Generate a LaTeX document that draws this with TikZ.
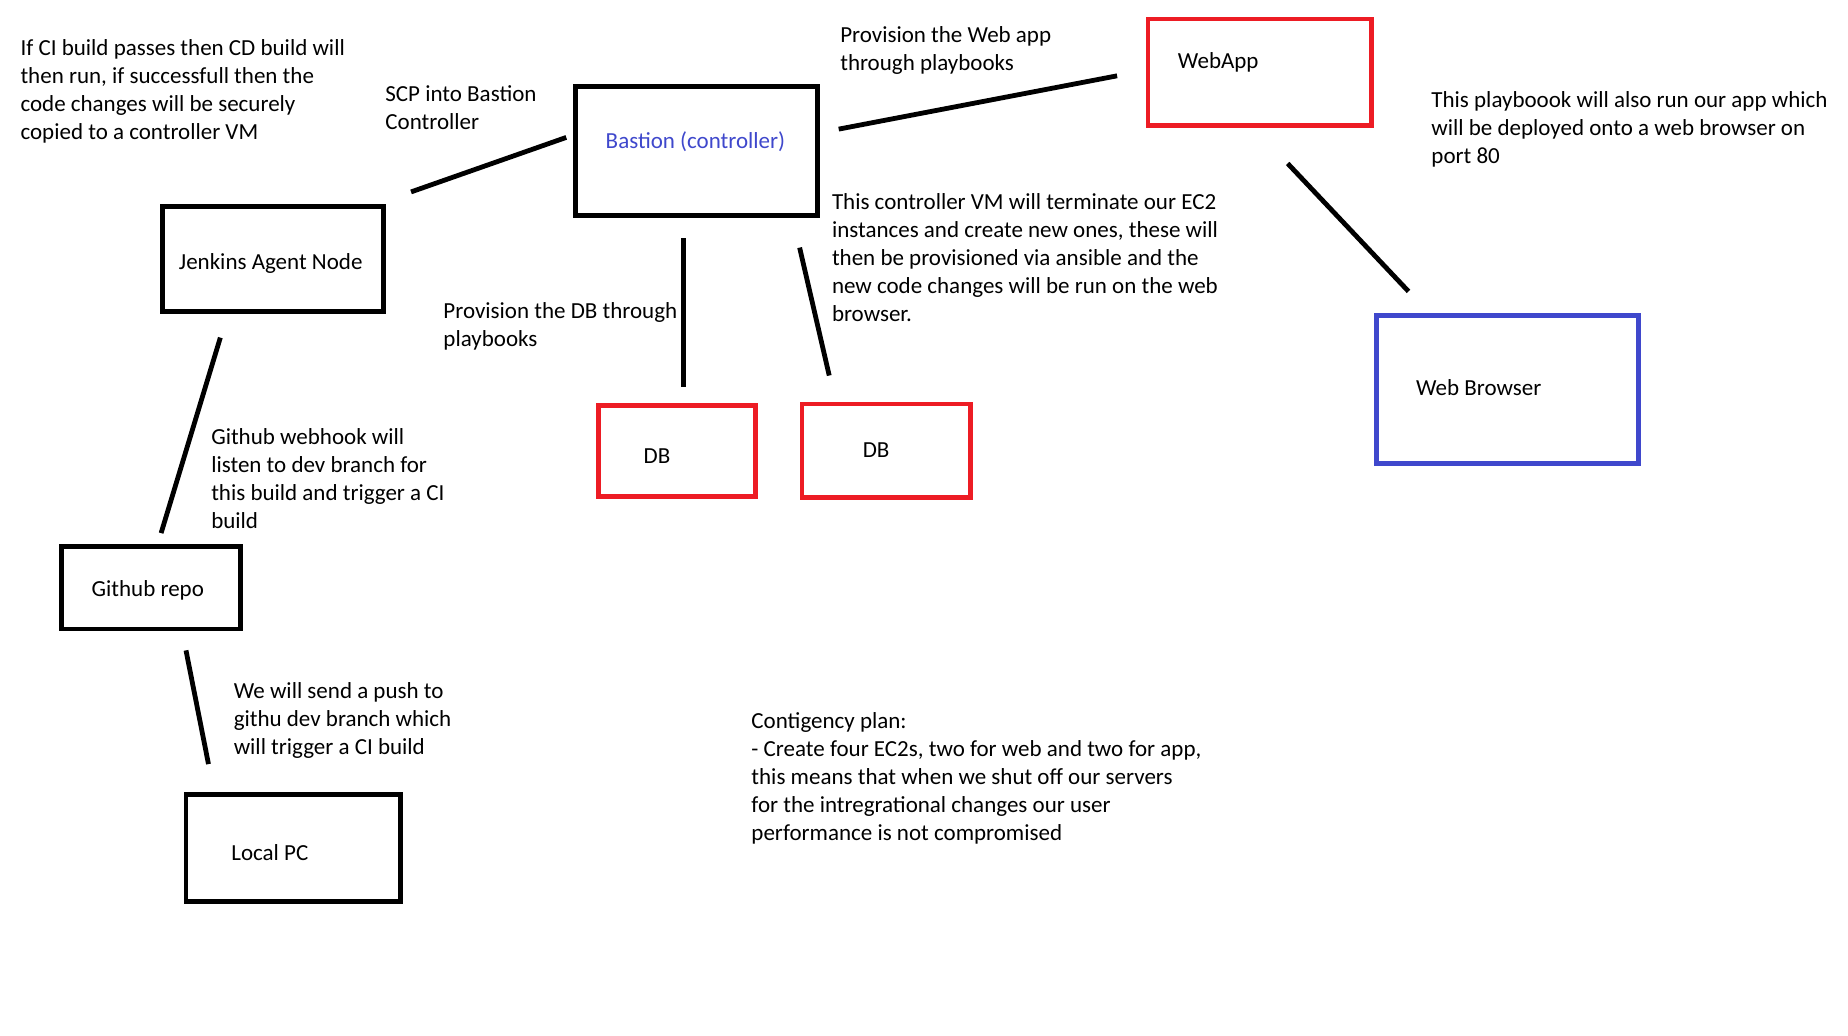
\documentclass[tikz,border=0pt]{standalone}
\usepackage{fontspec}
\setmainfont{Carlito}
\definecolor{pred}{HTML}{ED1C24}
\definecolor{pblue}{HTML}{3F48CC}
\begin{document}
\begin{tikzpicture}[x=0.5923pt,y=-0.5923pt,
  every node/.style={font=\fontsize{11.5}{14}\selectfont},
  boxk/.style={draw=black,line width=2.4pt,inner sep=0pt},
  boxr/.style={draw=pred,line width=2.4pt,inner sep=0pt},
  boxb/.style={draw=pblue,line width=2.4pt,inner sep=0pt},
  note/.style={align=left,anchor=north west,inner sep=0pt},
  lbl/.style={anchor=west,inner sep=0pt},
  link/.style={line width=2.4pt}]
\useasboundingbox[fill=white] (0,0) rectangle (1560,874);
% boxes
\node[boxk,minimum width=204*0.5923pt,minimum height=109*0.5923pt] (bastion) at (588,127.5) {};
\node[boxr,minimum width=189*0.5923pt,minimum height=90*0.5923pt] (webapp) at (1063.5,61) {};
\node[boxk,minimum width=187*0.5923pt,minimum height=89*0.5923pt] (jenkins) at (230.5,218.5) {};
\node[boxk,minimum width=151*0.5923pt,minimum height=70*0.5923pt] (github) at (127.5,496) {};
\node[boxk,minimum width=181*0.5923pt,minimum height=90*0.5923pt] (localpc) at (247.5,716) {};
\node[boxr,minimum width=133*0.5923pt,minimum height=77*0.5923pt] (db1) at (571.5,380.5) {};
\node[boxr,minimum width=142*0.5923pt,minimum height=79*0.5923pt] (db2) at (748,380.5) {};
\node[boxb,minimum width=221*0.5923pt,minimum height=125*0.5923pt] (browser) at (1272.5,328.5) {};
% box labels
\node[lbl,text=pblue] (tbastion) at (511,120) {Bastion (controller)};
\node[lbl] (twebapp) at (994,53) {WebApp};
\node[anchor=center,inner sep=0pt] (tjenkins) at (228.5,222) {Jenkins Agent Node};
\node[lbl] (tgithub) at (77,498) {Github repo};
\node[lbl] (tlocal) at (195,720) {Local PC};
\node[lbl] (tdb1) at (543,385) {DB};
\node[lbl] (tdb2) at (728,380) {DB};
\node[lbl] (tbrowser) at (1195,327) {Web Browser};
% connector end points
\coordinate (s1) at (347,162); \coordinate (s2) at (478,116);
\coordinate (w1) at (708,109); \coordinate (w2) at (943,64);
\coordinate (d1) at (577,201); \coordinate (d2) at (577,327);
\coordinate (e1) at (675,209); \coordinate (e2) at (700,317);
\coordinate (j1) at (186,285); \coordinate (j2) at (136,450);
\coordinate (g1) at (157,549); \coordinate (g2) at (176,645);
\coordinate (b1) at (1087,138); \coordinate (b2) at (1189,246);
\draw[link] (s1) -- (s2);
\draw[link] (w1) -- (w2);
\draw[link] (d1) -- (d2);
\draw[link] (e1) -- (e2);
\draw[link] (j1) -- (j2);
\draw[link] (g1) -- (g2);
\draw[link] (b1) -- (b2);
% notes
\node[note] (n1) at (17,33) {If CI build passes then CD build will\\then run, if successfull then the\\code changes will be securely\\copied to a controller VM};
\node[note] (n2) at (325,72) {SCP into Bastion\\Controller};
\node[note] (n3) at (709,22) {Provision the Web app\\through playbooks};
\node[note] (n4) at (1208,77) {This playboook will also run our app which\\will be deployed onto a web browser on\\port 80};
\node[note] (n5) at (702,163) {This controller VM will terminate our EC2\\instances and create new ones, these will\\then be provisioned via ansible and the\\new code changes will be run on the web\\browser.};
\node[note] (n6) at (374,255) {Provision the DB through\\playbooks};
\node[note] (n7) at (178,361) {Github webhook will\\listen to dev branch for\\this build and trigger a CI\\build};
\node[note] (n8) at (197,576) {We will send a push to\\githu dev branch which\\will trigger a CI build};
\node[note] (n9) at (634,601) {Contigency plan:\\- Create four EC2s, two for web and two for app,\\this means that when we shut off our servers\\for the intregrational changes our user\\performance is not compromised};
\end{tikzpicture}
\end{document}
